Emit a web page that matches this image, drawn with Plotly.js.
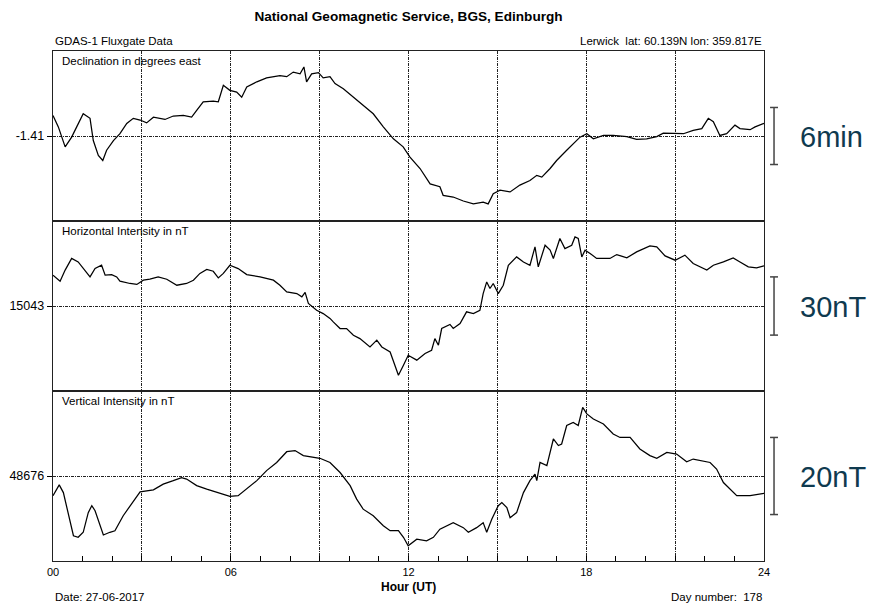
<!DOCTYPE html>
<html><head><meta charset="utf-8">
<script src="https://cdn.plot.ly/plotly-3.0.1.min.js"></script>
<style>html,body{margin:0;padding:0;background:#fff}#chart{width:875px;height:603px}</style>
</head><body><div id="chart"></div>
<script>
// Declination (degrees east)
const decHours = [0.00,0.18,0.41,0.63,0.80,1.02,1.25,1.36,1.53,1.68,1.81,2.04,2.26,2.49,2.71,2.94,3.16,3.39,3.78,4.06,4.40,4.68,4.85,5.07,5.41,5.58,5.75,5.97,6.20,6.37,6.54,6.88,7.21,7.66,7.89,8.11,8.34,8.47,8.56,8.73,8.96,9.12,9.35,9.52,9.80,10.14,10.47,10.81,11.15,11.49,11.82,12.05,12.39,12.73,13.06,13.17,13.51,13.85,14.19,14.52,14.69,14.86,15.09,15.43,15.76,16.10,16.33,16.50,16.78,17.00,17.34,17.56,17.79,18.02,18.24,18.58,18.91,19.37,19.70,20.04,20.38,20.60,20.94,21.28,21.61,21.90,22.12,22.29,22.51,22.74,23.02,23.19,23.53,23.70,24.00];
const decValues = [-1.374,-1.394,-1.429,-1.412,-1.394,-1.371,-1.379,-1.418,-1.444,-1.453,-1.435,-1.418,-1.406,-1.388,-1.379,-1.382,-1.387,-1.377,-1.381,-1.375,-1.374,-1.377,-1.365,-1.350,-1.349,-1.350,-1.321,-1.330,-1.333,-1.342,-1.324,-1.315,-1.308,-1.304,-1.306,-1.298,-1.301,-1.289,-1.315,-1.301,-1.299,-1.308,-1.306,-1.318,-1.327,-1.342,-1.356,-1.371,-1.394,-1.415,-1.429,-1.447,-1.467,-1.494,-1.499,-1.514,-1.517,-1.524,-1.529,-1.526,-1.529,-1.511,-1.505,-1.508,-1.496,-1.488,-1.479,-1.482,-1.467,-1.453,-1.435,-1.423,-1.412,-1.406,-1.415,-1.409,-1.409,-1.411,-1.416,-1.415,-1.411,-1.405,-1.405,-1.406,-1.400,-1.397,-1.379,-1.385,-1.409,-1.406,-1.391,-1.397,-1.399,-1.394,-1.388];

// Horizontal intensity (nT)
const hHours = [0.00,0.24,0.41,0.63,0.85,1.02,1.25,1.42,1.64,1.76,1.98,2.15,2.26,2.60,2.83,3.05,3.27,3.55,3.84,4.18,4.51,4.74,4.96,5.19,5.41,5.58,5.75,5.97,6.25,6.54,6.99,7.44,7.66,7.89,8.23,8.40,8.51,8.62,8.90,9.12,9.35,9.46,9.69,9.91,10.14,10.36,10.70,10.93,11.10,11.38,11.66,11.83,11.99,12.28,12.56,12.78,12.89,13.01,13.12,13.40,13.51,13.74,13.96,14.19,14.41,14.52,14.64,14.75,14.86,15.03,15.20,15.37,15.65,15.88,16.10,16.27,16.38,16.61,16.78,16.89,17.11,17.28,17.51,17.62,17.73,17.85,17.96,18.13,18.35,18.80,19.03,19.37,19.70,20.15,20.38,20.66,21.00,21.33,21.61,22.07,22.29,22.63,22.96,23.19,23.47,23.75,24.00];
const hValues = [15058.9,15055.8,15061.5,15067.5,15065.7,15062.3,15058.0,15062.3,15064.0,15058.9,15059.2,15058.0,15055.8,15054.6,15054.1,15056.3,15056.8,15058.0,15056.8,15053.7,15054.6,15056.3,15059.8,15061.8,15060.9,15057.5,15059.8,15064.0,15062.3,15059.2,15058.0,15056.3,15053.7,15050.3,15049.4,15047.7,15050.0,15044.3,15040.8,15039.1,15036.6,15034.8,15031.4,15031.4,15027.9,15026.2,15021.9,15025.4,15021.9,15019.3,15007.3,15012.5,15017.6,15015.1,15018.5,15020.2,15026.2,15022.8,15031.4,15033.5,15031.4,15034.0,15040.0,15039.1,15040.8,15049.4,15055.4,15052.0,15054.6,15049.4,15053.7,15064.0,15068.3,15065.7,15064.0,15073.5,15063.2,15074.3,15071.8,15067.5,15077.8,15072.6,15074.3,15078.6,15077.8,15068.3,15071.8,15070.1,15067.5,15067.5,15069.5,15067.8,15070.9,15074.0,15073.5,15068.8,15066.6,15069.2,15064.9,15061.5,15064.0,15065.7,15067.8,15065.7,15063.2,15062.6,15063.7];

// Vertical intensity (nT)
const zHours = [0.00,0.21,0.35,0.52,0.69,0.85,1.02,1.19,1.31,1.42,1.59,1.70,1.92,2.09,2.37,2.71,2.94,3.39,3.72,4.06,4.34,4.51,4.85,5.19,5.64,5.97,6.25,6.54,6.88,7.21,7.55,7.89,8.17,8.45,9.01,9.35,9.69,10.03,10.25,10.47,10.81,11.15,11.38,11.66,11.83,11.99,12.28,12.61,12.84,13.06,13.51,13.85,14.02,14.30,14.52,14.64,14.81,15.03,15.15,15.32,15.43,15.65,15.88,16.10,16.27,16.33,16.44,16.67,16.89,17.06,17.17,17.34,17.56,17.73,17.88,18.02,18.24,18.58,18.91,19.14,19.48,19.81,20.15,20.38,20.72,21.05,21.39,21.61,22.18,22.40,22.63,23.08,23.53,24.00];
const zValues = [48670.9,48673.7,48671.7,48665.7,48660.5,48660.1,48661.4,48666.5,48668.3,48667.0,48663.1,48660.7,48661.4,48661.8,48665.7,48669.6,48671.9,48672.4,48673.9,48674.8,48675.6,48675.2,48673.5,48672.6,48671.6,48670.7,48670.9,48672.6,48674.8,48677.4,48679.5,48682.3,48682.6,48681.3,48680.6,48679.5,48676.9,48673.5,48670.0,48667.4,48665.7,48663.1,48661.8,48661.8,48660.1,48657.9,48659.6,48659.2,48660.1,48662.2,48663.9,48662.6,48661.4,48662.6,48663.9,48661.4,48664.8,48668.3,48669.1,48667.8,48665.2,48666.5,48671.7,48674.8,48676.5,48674.8,48679.5,48678.7,48685.6,48683.9,48684.3,48689.1,48689.9,48689.1,48693.8,48692.1,48690.8,48689.5,48686.9,48686.0,48686.0,48683.0,48681.3,48680.6,48682.1,48681.7,48679.7,48680.4,48679.5,48677.8,48674.3,48670.9,48670.9,48671.5];

// Panel reference values, half-ranges, scale bars
const panelNames = ['Declination in degrees east','Horizontal Intensity in nT','Vertical Intensity in nT'];
const baseValues = [-1.41, 15043, 48676];
const baseLabels = ['-1.41', '15043', '48676'];
const halfRanges = [0.149, 43.8, 22.05];
const scaleSizes = [0.1, 30, 20];
const scaleLabels = ['6min', '30nT', '20nT'];
const hourTicks = [0,3,6,9,12,15,18,21,24];
const hourLabels = ['00','','06','','12','','18','','24'];

const FONT = 'Liberation Sans, Arial, sans-serif';
const lineStyle = {color:'#000', width:1.25};
const data = [
  {x:decHours, y:decValues, xaxis:'x', yaxis:'y', mode:'lines', line:lineStyle, hoverinfo:'skip'},
  {x:hHours, y:hValues, xaxis:'x2', yaxis:'y2', mode:'lines', line:lineStyle, hoverinfo:'skip'},
  {x:zHours, y:zValues, xaxis:'x3', yaxis:'y3', mode:'lines', line:lineStyle, hoverinfo:'skip'}
];

const domains = [[2/3,1],[1/3,2/3],[0,1/3]];
const layout = {
  width:875, height:603,
  margin:{l:53, r:111, t:51, b:42},
  paper_bgcolor:'#fff', plot_bgcolor:'#fff',
  showlegend:false,
  font:{family:FONT, color:'#000', size:11},
  title:{text:'<b>National Geomagnetic Service, BGS, Edinburgh</b>', x:0.5, xref:'paper', xanchor:'center', y:1-16/603, yref:'container', yanchor:'middle', font:{family:FONT, size:13.6, color:'#000'}},
  annotations:[], shapes:[]
};

const axNames = ['', '2', '3'];
for (let i=0;i<3;i++){
  const ax = axNames[i];
  const isBottom = i===2;
  layout['xaxis'+ax] = {
    domain:[0,1], anchor:'y'+ax, range:[0,24], tickmode:'array', tickvals:hourTicks,
    ticktext: isBottom ? hourLabels : hourTicks.map(()=> ''),
    showticklabels:isBottom, ticks: isBottom ? 'inside' : '', ticklen:5, tickcolor:'#000', tickwidth:1,
    minor: isBottom ? {tickmode:'linear', tick0:0, dtick:1, ticks:'inside', ticklen:5, tickcolor:'#000', tickwidth:1, showgrid:false} : {},
    showgrid:true, gridcolor:'#222', gridwidth:1, griddash:'3px,1px,1px,1px',
    showline:true, mirror:true, linecolor:'#222', linewidth:1.3, zeroline:false,
    tickfont:{family:FONT, size:11, color:'#000'}, fixedrange:true
  };
  layout['yaxis'+ax] = {
    domain:domains[i], anchor:'x'+ax,
    range:[baseValues[i]-halfRanges[i], baseValues[i]+halfRanges[i]],
    tickmode:'array', tickvals:[baseValues[i]], ticktext:[baseLabels[i]],
    ticks:'outside', ticklen:5, tickcolor:'#000', tickwidth:1,
    showgrid:true, gridcolor:'#222', gridwidth:1, griddash:'3px,1px,1px,1px',
    showline:true, mirror:true, linecolor:'#222', linewidth:1.3, zeroline:false,
    tickfont:{family:FONT, size:12.5, color:'#000'}, fixedrange:true
  };
  // panel label
  layout.annotations.push({text:panelNames[i], xref:'x'+ax+' domain', yref:'y'+ax+' domain', x:0.01, y:1, xanchor:'left', yanchor:'top', yshift:-2, showarrow:false, font:{family:FONT, size:11.5, color:'#000'}});
  // scale bar
  const yr = 'y'+ax;
  const lo = baseValues[i]-scaleSizes[i]/2, hi = baseValues[i]+scaleSizes[i]/2;
  const bx = 1.0141, cw = 0.0056;
  const st = {color:'#444', width:1.5};
  layout.shapes.push({type:'line', xref:'paper', yref:yr, x0:bx, x1:bx, y0:lo, y1:hi, line:st});
  layout.shapes.push({type:'line', xref:'paper', yref:yr, x0:bx-cw, x1:bx+cw, y0:lo, y1:lo, line:st});
  layout.shapes.push({type:'line', xref:'paper', yref:yr, x0:bx-cw, x1:bx+cw, y0:hi, y1:hi, line:st});
  layout.annotations.push({text:scaleLabels[i], xref:'paper', yref:yr, x:1.0478, y:baseValues[i], xanchor:'left', yanchor:'middle', yshift:-1, showarrow:false, font:{family:'Liberation Sans, Arial, sans-serif', size:29, color:'#0f3a4f'}});
}

const topY = (561-41)/510;
layout.annotations.push(
  {text:'GDAS-1 Fluxgate Data', xref:'paper', yref:'paper', x:0, y:topY, xanchor:'left', yanchor:'middle', showarrow:false, font:{family:FONT, size:11.5}},
  {text:'Lerwick&nbsp;&nbsp;lat: 60.139N lon: 359.817E', xref:'paper', yref:'paper', x:1, y:topY, xanchor:'right', yanchor:'middle', showarrow:false, font:{family:FONT, size:11.5}},
  {text:'<b>Hour (UT)</b>', xref:'paper', yref:'paper', x:0.5, y:(561-586.5)/510, xanchor:'center', yanchor:'middle', showarrow:false, font:{family:FONT, size:12}},
  {text:'Date: 27-06-2017', xref:'paper', yref:'paper', x:0, y:(561-597)/510, xanchor:'left', yanchor:'middle', showarrow:false, font:{family:FONT, size:11.5}},
  {text:'Day number:&nbsp;&nbsp;178', xref:'paper', yref:'paper', x:1, y:(561-597)/510, xanchor:'right', yanchor:'middle', showarrow:false, font:{family:FONT, size:11.5}}
);

Plotly.newPlot('chart', data, layout, {staticPlot:true, displayModeBar:false});
</script>
</body></html>
